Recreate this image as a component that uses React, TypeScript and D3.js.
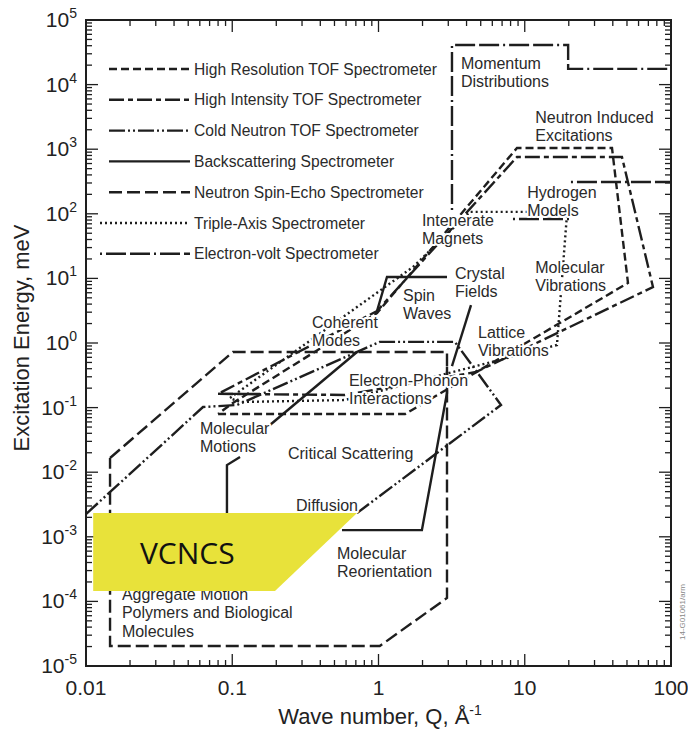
import React from "react";
import * as d3 from "d3";

type P = [number, number];

// ---- axes ----
const xDecades = [0.01, 0.1, 1, 10, 100];
const xTickLabels = ["0.01", "0.1", "1", "10", "100"];
const yExponents = [-5, -4, -3, -2, -1, 0, 1, 2, 3, 4, 5];
const minorSteps = [2, 3, 4, 5, 6, 7, 8, 9];

// ---- instrument regions (Q in 1/Å, E in meV) ----
const highResTOF: P[][] = [
  [[0.08, 0.0796], [1.52, 0.0796], [50.8, 8.5], [39.5, 1045], [8.85, 1045], [0.977, 2.91], [0.101, 0.118], [0.08, 0.0796]],
];
const highIntTOF: P[][] = [
  [[0.08, 0.163], [0.59, 0.157], [4.64, 0.355], [75.3, 7.36], [46.2, 757], [8.85, 757], [0.977, 3.13], [0.08, 0.163]],
];
const coldTOF: P[][] = [
  [[0.01, 0.00225], [0.0631, 0.102], [0.108, 0.11], [1.02, 1.04], [3.33, 1.04], [6.88, 0.11], [0.713, 0.00233]],
];
const backscattering: P[][] = [
  [[0.092, 0.00233], [0.092, 0.0129], [0.113, 0.0172]],
  [[0.563, 0.00127], [1.98, 0.00127], [2.94, 0.168], [2.94, 0.425]],
  [[0.181, 0.0538], [0.713, 0.726]],
  [[0.977, 3.13], [1.143, 10.5], [2.94, 10.5]],
  [[4.29, 3.87], [3.18, 0.44]],
  [[0.08, 0.163], [0.155, 0.163]],
];
const spinEcho: P[][] = [
  [[0.0146, 0.0166], [0.101, 0.726], [2.94, 0.726], [2.94, 1.13e-4], [1.02, 2.04e-5], [0.0146, 2.04e-5], [0.0146, 0.0166]],
];
const tripleAxis: P[][] = [
  [[0.0965, 0.141], [1.72, 15.0], [4.22, 107], [19.5, 107], [16.6, 0.93], [0.59, 0.131], [0.113, 0.122], [0.0965, 0.141]],
];
const electronVolt: P[][] = [
  [[3.18, 115], [3.18, 4.1e4], [19.8, 4.1e4], [19.8, 1.75e4], [100, 1.75e4]],
  [[20.7, 311], [100, 311]],
  [[8.31, 83], [21, 83]],
];

const instruments = [
  { name: "High Resolution TOF Spectrometer", segs: highResTOF, dash: "8,4" },
  { name: "High Intensity TOF Spectrometer", segs: highIntTOF, dash: "15,4,5,4" },
  { name: "Cold Neutron TOF Spectrometer", segs: coldTOF, dash: "16,3,2,3,2,3" },
  { name: "Backscattering Spectrometer", segs: backscattering, dash: "none" },
  { name: "Neutron Spin-Echo Spectrometer", segs: spinEcho, dash: "13,5" },
  { name: "Triple-Axis Spectrometer", segs: tripleAxis, dash: "2,3" },
  { name: "Electron-volt Spectrometer", segs: electronVolt, dash: "2,4,20,4,20,4" },
];

// ---- region labels (anchor = left end of first baseline, data coords) ----
const labels: { lines: string[]; at: P }[] = [
  { lines: ["Momentum", "Distributions"], at: [3.66, 1.744e4] },
  { lines: ["Neutron Induced", "Excitations"], at: [11.8, 2544] },
  { lines: ["Hydrogen", "Models"], at: [10.4, 175.6] },
  { lines: ["Intenerate", "Magnets"], at: [1.98, 64.7] },
  { lines: ["Crystal", "Fields"], at: [3.33, 9.79] },
  { lines: ["Spin", "Waves"], at: [1.47, 4.47] },
  { lines: ["Molecular", "Vibrations"], at: [11.8, 12.1] },
  { lines: ["Coherent", "Modes"], at: [0.351, 1.707] },
  { lines: ["Lattice", "Vibrations"], at: [4.79, 1.195] },
  { lines: ["Electron-Phonon", "Interactions"], at: [0.628, 0.216] },
  { lines: ["Molecular", "Motions"], at: [0.0602, 0.039] },
  { lines: ["Critical Scattering"], at: [0.2405, 0.016] },
  { lines: ["Diffusion"], at: [0.273, 0.00251] },
  { lines: ["Molecular", "Reorientation"], at: [0.52, 4.53e-4] },
  { lines: ["Aggregate Motion", "Polymers and Biological", "Molecules"], at: [0.0176, 1.05e-4] },
];

// ---- VCNCS overlay ----
const vcncsRegion: P[] = [[0.0112, 0.00233], [0.713, 0.00233], [0.196, 1.45e-4], [0.0112, 1.45e-4]];
const vcncsLabelAt: P = [0.0234, 3.8e-4];

export default function App() {
  const W = 688, H = 729;
  const L = 86, R = 671, T = 20, B = 666;
  const x = d3.scaleLog().domain([0.01, 100]).range([L, R]);
  const y = d3.scaleLog().domain([1e-5, 1e5]).range([B, T]);
  const line = d3.line<P>().x((d) => x(d[0])).y((d) => y(d[1]));

  const ink = "#1e1e1e";
  const font = "'Liberation Sans', Arial, Helvetica, sans-serif";

  const xMinor = xDecades.slice(0, -1).flatMap((d) => minorSteps.map((k) => k * d));
  const yDec = yExponents.map((e) => Math.pow(10, e));
  const yMinor = yDec.slice(0, -1).flatMap((d) => minorSteps.map((k) => k * d));
  const maj = 12, mnr = 6;

  const legendY0 = 69, legendDy = 30.8;

  return (
    <div style={{ position: "absolute", left: 0, top: 0 }}>
      <svg width={W} height={H} style={{ display: "block", background: "#fff" }} fontFamily={font}>
        <rect x={0} y={0} width={W} height={H} fill="#fff" />

        {/* ticks */}
        <g stroke={ink} strokeWidth={1.3}>
          {xDecades.map((v, i) => (
            <g key={"xd" + i}>
              <line x1={x(v)} x2={x(v)} y1={B} y2={B - maj} />
              <line x1={x(v)} x2={x(v)} y1={T} y2={T + maj} />
            </g>
          ))}
          {xMinor.map((v, i) => (
            <g key={"xm" + i}>
              <line x1={x(v)} x2={x(v)} y1={B} y2={B - mnr} />
              <line x1={x(v)} x2={x(v)} y1={T} y2={T + mnr} />
            </g>
          ))}
          {yDec.map((v, i) => (
            <g key={"yd" + i}>
              <line x1={L} x2={L + maj} y1={y(v)} y2={y(v)} />
              <line x1={R} x2={R - maj} y1={y(v)} y2={y(v)} />
            </g>
          ))}
          {yMinor.map((v, i) => (
            <g key={"ym" + i}>
              <line x1={L} x2={L + mnr} y1={y(v)} y2={y(v)} />
              <line x1={R} x2={R - mnr} y1={y(v)} y2={y(v)} />
            </g>
          ))}
        </g>

        {/* instrument boundaries */}
        <g fill="none" stroke={ink} strokeWidth={2.4}>
          {instruments.map((ins, i) =>
            ins.segs.map((s, j) => (
              <path key={i + "-" + j} d={line(s) || ""} strokeDasharray={ins.dash} />
            ))
          )}
        </g>

        {/* region labels with white halo */}
        <g fontSize={16} fill="#2a2a2a" stroke="#fff" strokeWidth={4} strokeLinejoin="round" style={{ paintOrder: "stroke" }}>
          {labels.map((lb, i) => (
            <text key={"lb" + i} x={x(lb.at[0])} y={y(lb.at[1])}>
              {lb.lines.map((t, k) => (
                <tspan key={k} x={x(lb.at[0])} dy={k === 0 ? 0 : 18.3}>{t}</tspan>
              ))}
            </text>
          ))}
        </g>

        {/* legend */}
        <g>
          {instruments.map((ins, i) => {
            const ly = legendY0 + i * legendDy;
            return (
              <g key={"lg" + i}>
                <line x1={i === 5 || i === 6 ? 100 : 109} x2={190} y1={ly} y2={ly} stroke={ink} strokeWidth={2.4}
                  strokeDasharray={ins.dash} />
                <text x={194} y={ly + 5.5} fontSize={15.6} fill="#2a2a2a">{ins.name}</text>
              </g>
            );
          })}
        </g>

        {/* VCNCS overlay */}
        <path d={(line(vcncsRegion) || "") + "Z"} fill="#e8e23a" stroke="none" />
        <text x={x(vcncsLabelAt[0])} y={y(vcncsLabelAt[1])} fontSize={30} fill="#111"
          fontFamily="'Open Sans', 'Noto Sans', sans-serif">VCNCS</text>

        {/* frame */}
        <rect x={L} y={T} width={R - L} height={B - T} fill="none" stroke={ink} strokeWidth={2} />

        {/* tick labels */}
        <g fill="#222" fontSize={21}>
          {xDecades.map((v, i) => (
            <text key={"xl" + i} x={x(v)} y={695} textAnchor="middle">{xTickLabels[i]}</text>
          ))}
          {yExponents.map((e, i) => (
            <text key={"yl" + i} x={77} y={y(Math.pow(10, e)) + 7} textAnchor="end">
              10<tspan dy={-9} fontSize={14}>{String(e)}</tspan>
            </text>
          ))}
        </g>

        {/* axis titles */}
        <text x={380} y={724} textAnchor="middle" fontSize={22} fill="#222">
          Wave number, Q, Å<tspan dy={-9} fontSize={14}>-1</tspan>
        </text>
        <text transform="translate(29,338) rotate(-90)" textAnchor="middle" fontSize={22} fill="#222">
          Excitation Energy, meV
        </text>
        <text transform="translate(685,612) rotate(-90)" textAnchor="middle" fontSize={8} fill="#888">
          14-G01061/arm
        </text>
      </svg>
    </div>
  );
}
